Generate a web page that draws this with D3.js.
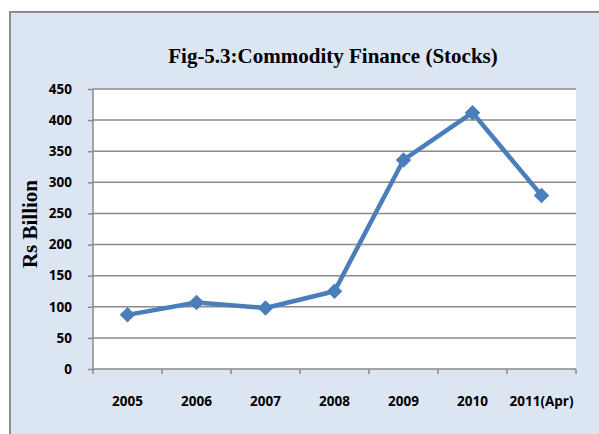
<!DOCTYPE html>
<html>
<head>
<meta charset="utf-8">
<script src="https://cdn.jsdelivr.net/npm/d3@7"></script>
<style>
  body { margin: 0; background: #fff; }
  .ytick text, .xtick text { font-family: "Open Sans", "Liberation Sans", sans-serif; font-weight: bold; font-size: 13.5px; fill: #000; }
</style>
</head>
<body>
<svg id="chart"></svg>
<script>
var years = ["2005", "2006", "2007", "2008", "2009", "2010", "2011(Apr)"];
var stocks = [87, 107, 98, 125, 336, 412, 279];
var yTicks = [0, 50, 100, 150, 200, 250, 300, 350, 400, 450];

var width = 599, height = 434;
var margin = { top: 89, right: 23, bottom: 65, left: 93 };

var svg = d3.select("#chart").attr("width", width).attr("height", height);

// outer chart box
svg.append("rect").attr("x", 10).attr("y", 12).attr("width", 600).attr("height", 440)
  .attr("fill", "#dce6f2").attr("stroke", "#8c8c8c").attr("stroke-width", 2);

var x = d3.scaleBand().domain(years).range([margin.left, width - margin.right]);
var y = d3.scaleLinear().domain([0, 450]).range([height - margin.bottom, margin.top]);

// plot area
svg.append("rect").attr("x", margin.left).attr("y", margin.top)
  .attr("width", width - margin.right - margin.left).attr("height", height - margin.bottom - margin.top)
  .attr("fill", "#fff");

// grid lines
svg.append("g").selectAll("line").data(yTicks.slice(1)).enter().append("line")
  .attr("x1", margin.left).attr("x2", width - margin.right)
  .attr("y1", d => y(d)).attr("y2", d => y(d))
  .attr("stroke", "#8a8a8a").attr("stroke-width", 1.5);

// y axis
var yAxis = d3.axisLeft(y).tickValues(yTicks).tickSize(5).tickPadding(16);
var yg = svg.append("g").attr("class", "ytick").attr("transform", "translate(" + margin.left + ",0)").call(yAxis);
yg.select(".domain").attr("stroke", "#8a8a8a").attr("stroke-width", 1.5).attr("d", "M0," + y(0) + "V" + y(450));
yg.selectAll(".tick line").attr("stroke", "#8a8a8a").attr("stroke-width", 1.5);

// x axis
var xAxis = d3.axisBottom(x).tickSize(0).tickPadding(27);
var xg = svg.append("g").attr("class", "xtick").attr("transform", "translate(0," + y(0) + ")").call(xAxis);
xg.select(".domain").attr("stroke", "#8a8a8a").attr("stroke-width", 1.5).attr("d", "M" + margin.left + ",0H" + (width - margin.right));
xg.selectAll(".tick text").attr("dy", "0.71em");
var bounds = years.map(d => x(d)).concat([x(years[years.length - 1]) + x.bandwidth()]);
xg.selectAll(".bound").data(bounds).enter().append("line").attr("class", "bound")
  .attr("x1", d => d).attr("x2", d => d).attr("y1", 0).attr("y2", 5)
  .attr("stroke", "#8a8a8a").attr("stroke-width", 1.5);

// series
var cx = d => x(d) + x.bandwidth() / 2;
var line = d3.line().x((d, i) => cx(years[i])).y(d => y(d));
svg.append("path").datum(stocks).attr("d", line)
  .attr("fill", "none").attr("stroke", "#4a7ebb").attr("stroke-width", 4.5).attr("stroke-linejoin", "round");

svg.append("g").selectAll("path").data(stocks).enter().append("path")
  .attr("d", d3.symbol().type(d3.symbolSquare).size(120))
  .attr("transform", (d, i) => "translate(" + cx(years[i]) + "," + y(d) + ") rotate(45)")
  .attr("fill", "#4a7ebb");

// titles
svg.append("text").attr("x", 333).attr("y", 63).attr("text-anchor", "middle")
  .attr("font-family", "'Liberation Serif', 'Times New Roman', serif").attr("font-weight", "bold").attr("font-size", 21)
  .text("Fig-5.3:Commodity Finance (Stocks)");

svg.append("text").attr("transform", "translate(37,224) rotate(-90)").attr("text-anchor", "middle")
  .attr("font-family", "'Liberation Serif', 'Times New Roman', serif").attr("font-weight", "bold").attr("font-size", 21)
  .text("Rs Billion");
</script>
</body>
</html>
